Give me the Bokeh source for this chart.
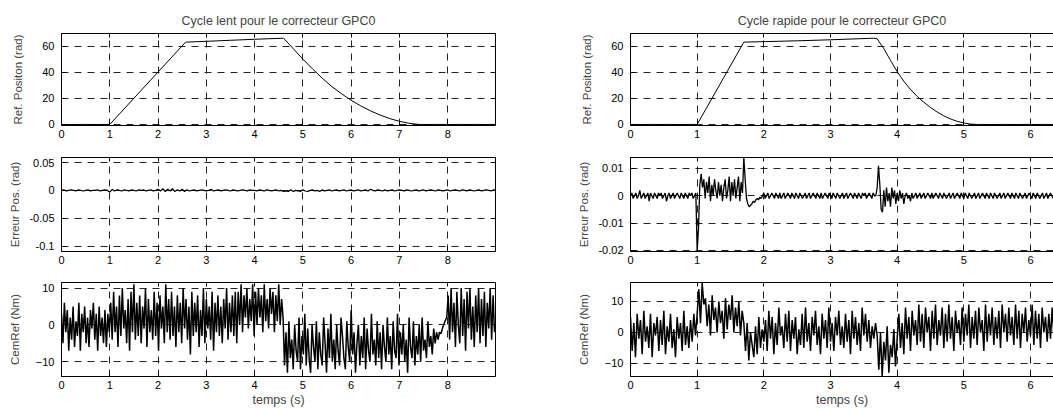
import numpy as np
from bokeh.plotting import figure
from bokeh.models import LinearAxis, FixedTicker, Range1d, Grid
from bokeh.layouts import row, column
from bokeh.embed import file_html
from bokeh.resources import INLINE

FONT = "Liberation Sans"

# ---------------- data ----------------
titles = ["Cycle lent pour le correcteur GPC0", "Cycle rapide pour le correcteur GPC0"]
ylabels = ["Ref. Positon (rad)", "Erreur Pos. (rad)", "CemRef (Nm)"]
xlabel = "temps (s)"

# Left column: slow cycle
pos_slow_t = [0, 1, 2.57, 3.0, 3.5, 4.0, 4.6, 4.8, 5.0, 5.2, 5.4, 5.6, 5.8, 6.0, 6.2,
              6.4, 6.6, 6.8, 7.0, 7.2, 7.4, 8.99]
pos_slow_v = [0, 0, 63, 63.6, 64.4, 65.2, 66, 58, 50, 42.5, 35.5, 29, 23.5, 18.5, 14.2,
              10.4, 7.2, 4.5, 2.4, 0.9, 0, 0]

err_slow_dt = 0.05  # s, sampling of the read values
err_slow_mrad = [
    0, 1, -1, 0, 1, 0, -1, 1, 0, -1, 0, 1, -1, 0, 0, 1, -1, 0, 1, 0,
    -3,
    2, -1, 1, 0, -1, 1, 0, -1, 1, 0, -1, 1, 0, 1, -1, 0, 1, -1, 0,
    2, -1, 3, -2, 2, -1, 3, -2, 1, -1, 2, -2, 1, -1,
    0, 1, -1, 0, 1, 0, -1, 0, 2, -1, 0, 1, -1, 0, 1, 0, -1, 1, 0, -1,
    0, 1, 0, -1, 1, 0, 0, -1, 1, 0, -1, 1, 0, -1, 0, 1, -1, 0,
    -2, -1, -2, 1, -2, 0, -1, -2, 1, -1, -2, 0, 1, -1, 0, -2, 1, -1, 0, 1,
    -1, 0, 1, -1, 0, 1, -1, 0,
    1, -1, 0, 1, -1, 0, 1, -1, 2, 0, -1, 1, 0, -1, 1, -1, 0, 1, -1, 0,
    1, 0, -1, 1, 0, -1, 0, 1, -1, 0, 1, -1, 0, 1, 0, -1, 1, 0, -1, 0,
    1, -1, 0, 1, 0, -1, 1, 0, -1, 1, 0, -1, 0, 1, -1, 0, 1, 0, -1, 1, 0,
]

cem_slow_dt = 0.03
cem_slow = [
    3, -5, 6, -2, 4, -7, 2, -4, 5, -6, 1, -3, 6, -7, 3, -2, 5, -5, 2, -6,
    4, -1, 6, -4, 3, -7, 5, -3, 2, -5, 4, -6, 3, -2,
    6, -4, 9, -2, 5, -6, 8, -3, 10, -1, 4, -5, 7, -7, 9, -2, 11, -4, 6, -3,
    8, -5, 5, -1, 10, -6, 7, -2, 4, -4, 9, -3, 6, -7, 8, -1, 5, -5, 11, -2,
    7, -4, 9, -3, 5, -6, 8, -2, 6, -5, 10, -1, 7, -4, 5, -8, 9, -3, 6, -2,
    8, -6, 4, -3, 10, -5, 7, -1, 5, -4, 9, -7, 6, -2, 8, -3, 5, -5, 7, -1,
    10, -4, 6, -2, 8, -3, 9, -5,
    9, 0, 11, -2, 8, 2, 10, -1, 7, 1, 11, -3, 9, 0, 10, 2, 8, -2, 11, 1,
    7, -1, 10, 3, 9, -2, 8, 1, 11, 0, 7, 2,
    -11, -2, -13, 1, -9, -4, -12, 0, -7, -10, 2, -12, -3, -8, 3, -11, -1, -9, -13, 0,
    -6, -10, 1, -12, -2, -8, -11, 2, -5, -13, -1, -9, 3, -10, -4, -12, 0, -7, -11, 2,
    -3, -9, -12, 1, -6, -10, 4, -8, -2, -13, -5, 0, -11, -3, -9, 2, -12, -1, -7, -10,
    3, -8, -4, -11, 1, -9, -2, -12, 0, -6, -10, 2, -8, -3, -12, 1, -7, -9, 3, -11,
    -2, -8, 0, -10, -4, -13, 2, -6, -9, 1, -11, -3, -8, 0, -10, 2, -7, -4, -9, 1,
    -6, -3, -8, -1, -5, -2, -4, -2,
    -2.4, -1, 0.2, 1.2, 2,
    8, -4, 10, -2, 6, -6, 9, 0, -5, 10, -3, 7, -7, 9, -1, 10, -4, 5, -6, 8,
    -2, 10, -5, 7, -3, 9, -6, 6, -1, 10, -4, 8, -2,
]

# Right column: fast cycle
pos_fast_t = [0, 1, 1.7, 2.5, 3.0, 3.65, 3.7, 3.8, 3.9, 4.0, 4.1, 4.2, 4.3, 4.4, 4.5,
              4.6, 4.7, 4.8, 4.9, 5.0, 5.1, 5.2, 6.35]
pos_fast_v = [0, 0, 63, 64, 64.8, 66, 65.5, 58, 49, 40.5, 33, 26.8, 21.5, 17, 13,
              9.5, 6.6, 4.2, 2.4, 1.1, 0.3, 0, 0]

err_fast_dt = 0.02
err_fast_mrad = [
    0, 1, -1, 0, 1, -1, 0, 2, -1, 0, 1, -1, 0, 1, -2, 1, 0, -1, 1, 0,
    -1, 1, 0, 1, -1, 0, 1, -2, 0, 1, -1, 0, 1, -1, 0, 1, 0, -1, 1, 0,
    -1, 1, 0, -1, 1, 0, 1, -1, 0, 1,
    -20, -12, 4, 8,
    3, 6, -1, 5, 1, 7, -2, 4, 0, 6, 2, -1, 5, 0, 4, -2, 3, 6, -1, 2,
    7, -2, 5, 0, 6, -1, 3, 7, -2, 5, 1,
    14, 6, -1, -3, -4, -3.5,
    -3, -2, -2.5, -1.5, -1, -1.5, -0.5, -1, 0,
    1, -1, 0, 1, -1, 0, 1, 0, -1, 1, 0, -1, 1, -1, 0, 1, -1, 0, 1, 0,
    -1, 1, 0, -1, 1, 0, -1, 1, 0, -1, 0, 1, -1, 0, 1, -1, 0, 1, 0, -1,
    1, 0, -1, 1, -1, 0, 1, 0, -1, 1, 0, -1, 1, 0, -1, 1, 0, -1, 0, 1,
    -1, 0, 1, -1, 0, 1, 0, -1, 1, 0, -1, 1, 0, -1, 1, 0, 1, -1, 0, 1,
    0, -1, 1, 0, 0,
    3, 11, 4, -5, -6,
    2, -4, 3, -2, 1, -4, 3, -1, 2, -3, 1, -2, 2, -1, 1, -3, 0, 1, -1, 0, -2,
    1, -1, 0, 1, -1, 0, 1, -1, 0, 1, -1, 0, 1, 0, -1, 1, -1, 0, 1, 0,
    -1, 1, 0, -1, 1, 0, -1, 0, 1, -1, 0, 1, -1, 0, 1, 0, -1, 1, 0, -1,
    1, 0, -1, 1, 0, -1, 0, 1, -1, 0, 1, -1, 0, 1, 0, -1, 1, 0, -1, 1,
    0, -1, 1, 0, -1, 0, 1, -1, 0, 1, -1, 0, 1, 0, -1, 1, 0, -1, 1, 0,
    -1, 1, 0, -1, 0, 1, -1, 0, 1, 0, -1, 1, 0, -1, 1, 0, -1, 0, 1, -1,
    0, 1, -1, 0, 1, 0, -1,
]

cem_fast_dt = 0.025
cem_fast = [
    5, -6, 3, -8, 6, -2, 4, -7, 7, -3, 2, -5, 6, -8, 3, -1, 5, -6, 4, -4,
    7, -7, 2, -3, 6, -5, 1, -8, 5, -2, 3, -6, 7, -4, 2, -5, 4, -3, 6, -1,
    6, 14, 3, 16, 9,
    11, 2, 9, -1, 12, 4, 8, 0, 10, 3, 7, -2, 11, 1, 9, 4, 12, 0, 8, 2, 10, -1, 7, 3,
    -6, 3, -9, 0, -4, -8, 2, -7, 5, -5, 1, -3,
    4, -6, 7, -2, 5, -7, 3, -4, 8, -1, 2, -5, 6, -3, 7, -6, 4, -2, 5, -7,
    1, -4, 6, -5, 8, -3, 3, -6, 5, -1, 7, -4, 2, -7, 6, -2, 4, -5, 8, -3,
    3, -6, 5, -1, 7, -4, 2, -5, 6, -3, 4, -7, 7, -2, 5, -4, 3, -6, 8, -1,
    6, -3, 4, -5, 2, -2, 3, -1,
    -12, 0, -14, -3, -9, 2, -13, -4, -8, 1, -11, -2,
    6, -5, 3, -7, 8, -2, 5, -6, 7, -1, 4, -4, 9, -3, 6, -5, 8, 0, 5, -6,
    7, -2, 9, -4, 4, -1, 8, -5, 6, -3, 9, -2, 5, -6, 7, 0, 4, -4, 8, -3,
    6, -1, 9, -5, 5, -2, 7, -4, 8, 0, 4, -6, 9, -3, 6, -1, 8, -4, 5, -2,
    7, -5, 9, 0, 6, -3, 8, -1, 5, -4, 9, -2, 7, -5, 6, 0, 8, -3, 4, -1,
    9, -4, 7, -2, 6, -5, 8, 0, 5, -3, 6, -2, 8, -1,
]

# ticks
xticks_slow = [0, 1, 2, 3, 4, 5, 6, 7, 8]
xticks_fast = [0, 1, 2, 3, 4, 5, 6]
yticks_pos = [0, 20, 40, 60]
yticks_err_slow = [-0.1, -0.05, 0, 0.05]
ylabels_err_slow = ["-0.1", "-0.05", "0", "0.05"]
yticks_err_fast = [-0.02, -0.01, 0, 0.01]
ylabels_err_fast = ["-0.02", "-0.01", "0", "0.01"]
yticks_cem = [-10, 0, 10]

GRID_DASH = "7 6"

# ---------------- helpers ----------------
def style_axis(ax, show_labels=True):
    ax.axis_line_color = "black"
    ax.axis_line_width = 1
    ax.major_tick_line_color = "black"
    ax.major_tick_in = 4
    ax.major_tick_out = 0
    ax.minor_tick_line_color = None
    ax.major_label_text_font = FONT
    if show_labels:
        ax.major_label_text_color = "black"
        ax.major_label_text_font_size = "11px"
        ax.major_label_standoff = 6
    else:
        ax.major_label_text_color = None
        ax.major_label_text_font_size = "1px"
        ax.major_label_standoff = 0


def panel(width, height, mb, xr, yr, xticks, yticks, ylabel, ylab_standoff,
          ytick_text=None, title=None, xlab=None, right_axis=True):
    p = figure(width=width, height=height, output_backend="svg", toolbar_location=None,
               x_range=Range1d(*xr), y_range=Range1d(*yr),
               min_border_left=mb[0], min_border_right=mb[1],
               min_border_top=mb[2], min_border_bottom=mb[3],
               x_axis_type=None, y_axis_type=None)
    p.outline_line_color = None
    p.background_fill_color = "white"
    p.border_fill_color = "white"
    xt = FixedTicker(ticks=xticks)
    yt = FixedTicker(ticks=yticks)
    p.add_layout(Grid(dimension=0, ticker=xt, grid_line_color="#222222",
                      grid_line_dash=GRID_DASH, grid_line_width=1))
    p.add_layout(Grid(dimension=1, ticker=yt, grid_line_color="#222222",
                      grid_line_dash=GRID_DASH, grid_line_width=1))
    bx = LinearAxis(ticker=xt)
    style_axis(bx)
    bx.major_label_standoff = 4
    if xlab:
        bx.axis_label = xlab
        bx.axis_label_text_font = FONT
        bx.axis_label_text_font_size = "12.5px"
        bx.axis_label_text_font_style = "normal"
        bx.axis_label_standoff = 1
    p.add_layout(bx, "below")
    ly = LinearAxis(ticker=yt)
    style_axis(ly)
    ly.major_label_standoff = 7
    if ytick_text is not None:
        ly.major_label_overrides = {v: s for v, s in zip(yticks, ytick_text)}
    ly.axis_label = ylabel
    ly.axis_label_text_font = FONT
    ly.axis_label_text_font_size = "11.5px"
    ly.axis_label_text_font_style = "normal"
    ly.axis_label_standoff = int(ylab_standoff)
    p.add_layout(ly, "left")
    tx = LinearAxis(ticker=xt)
    style_axis(tx, show_labels=False)
    p.add_layout(tx, "above")
    if right_axis:
        ry = LinearAxis(ticker=yt)
        style_axis(ry, show_labels=False)
        p.add_layout(ry, "right")
    if title:
        p.title.text = title
        p.title.text_font = FONT
        p.title.text_font_size = "12.5px"
        p.title.text_font_style = "normal"
        p.title.align = "center"
        p.title.standoff = 12
    return p


LW, RW = 560, 493
H1, H2, H3 = 145, 125, 139
L_MB = (61, 65)
R_MB = (70, 0)

pos_range = (-0.8, 69.6)
NOISY_LW = 1.5

# left column
p1 = panel(LW, H1, L_MB + (33, 20), (0, 8.99), pos_range, xticks_slow, yticks_pos,
           ylabels[0], 15, title=titles[0])
p1.line(pos_slow_t, pos_slow_v, line_color="black", line_width=1)

p2 = panel(LW, H2, L_MB + (12, 19), (0, 8.99), (-0.1095, 0.059), xticks_slow,
           yticks_err_slow, ylabels[1], 5, ytick_text=ylabels_err_slow)
t_es = np.arange(len(err_slow_mrad)) * err_slow_dt
p2.line(t_es, np.array(err_slow_mrad) / 1000.0, line_color="black", line_width=1.2)

p3 = panel(LW, H3, L_MB + (12, 33), (0, 8.99), (-14, 11.5), xticks_slow, yticks_cem,
           ylabels[2], 12, xlab=xlabel)
t_cs = np.arange(len(cem_slow)) * cem_slow_dt
p3.line(t_cs, cem_slow, line_color="black", line_width=NOISY_LW)

# right column
q1 = panel(RW, H1, R_MB + (33, 20), (0, 6.345), pos_range, xticks_fast, yticks_pos,
           ylabels[0], 15, title=titles[1], right_axis=False)
q1.line(pos_fast_t, pos_fast_v, line_color="black", line_width=1)

q2 = panel(RW, H2, R_MB + (12, 19), (0, 6.345), (-0.0204, 0.014), xticks_fast,
           yticks_err_fast, ylabels[1], 5, ytick_text=ylabels_err_fast, right_axis=False)
t_ef = np.arange(len(err_fast_mrad)) * err_fast_dt
q2.line(t_ef, np.array(err_fast_mrad) / 1000.0, line_color="black", line_width=1.3)

q3 = panel(RW, H3, R_MB + (12, 33), (0, 6.345), (-14.2, 16.1), xticks_fast, yticks_cem,
           ylabels[2], 12, xlab=xlabel, right_axis=False)
t_cf = np.arange(len(cem_fast)) * cem_fast_dt
q3.line(t_cf, cem_fast, line_color="black", line_width=NOISY_LW)

layout = row(column(p1, p2, p3, spacing=0), column(q1, q2, q3, spacing=0), spacing=0)

open("out.html", "w").write(file_html(layout, INLINE))
